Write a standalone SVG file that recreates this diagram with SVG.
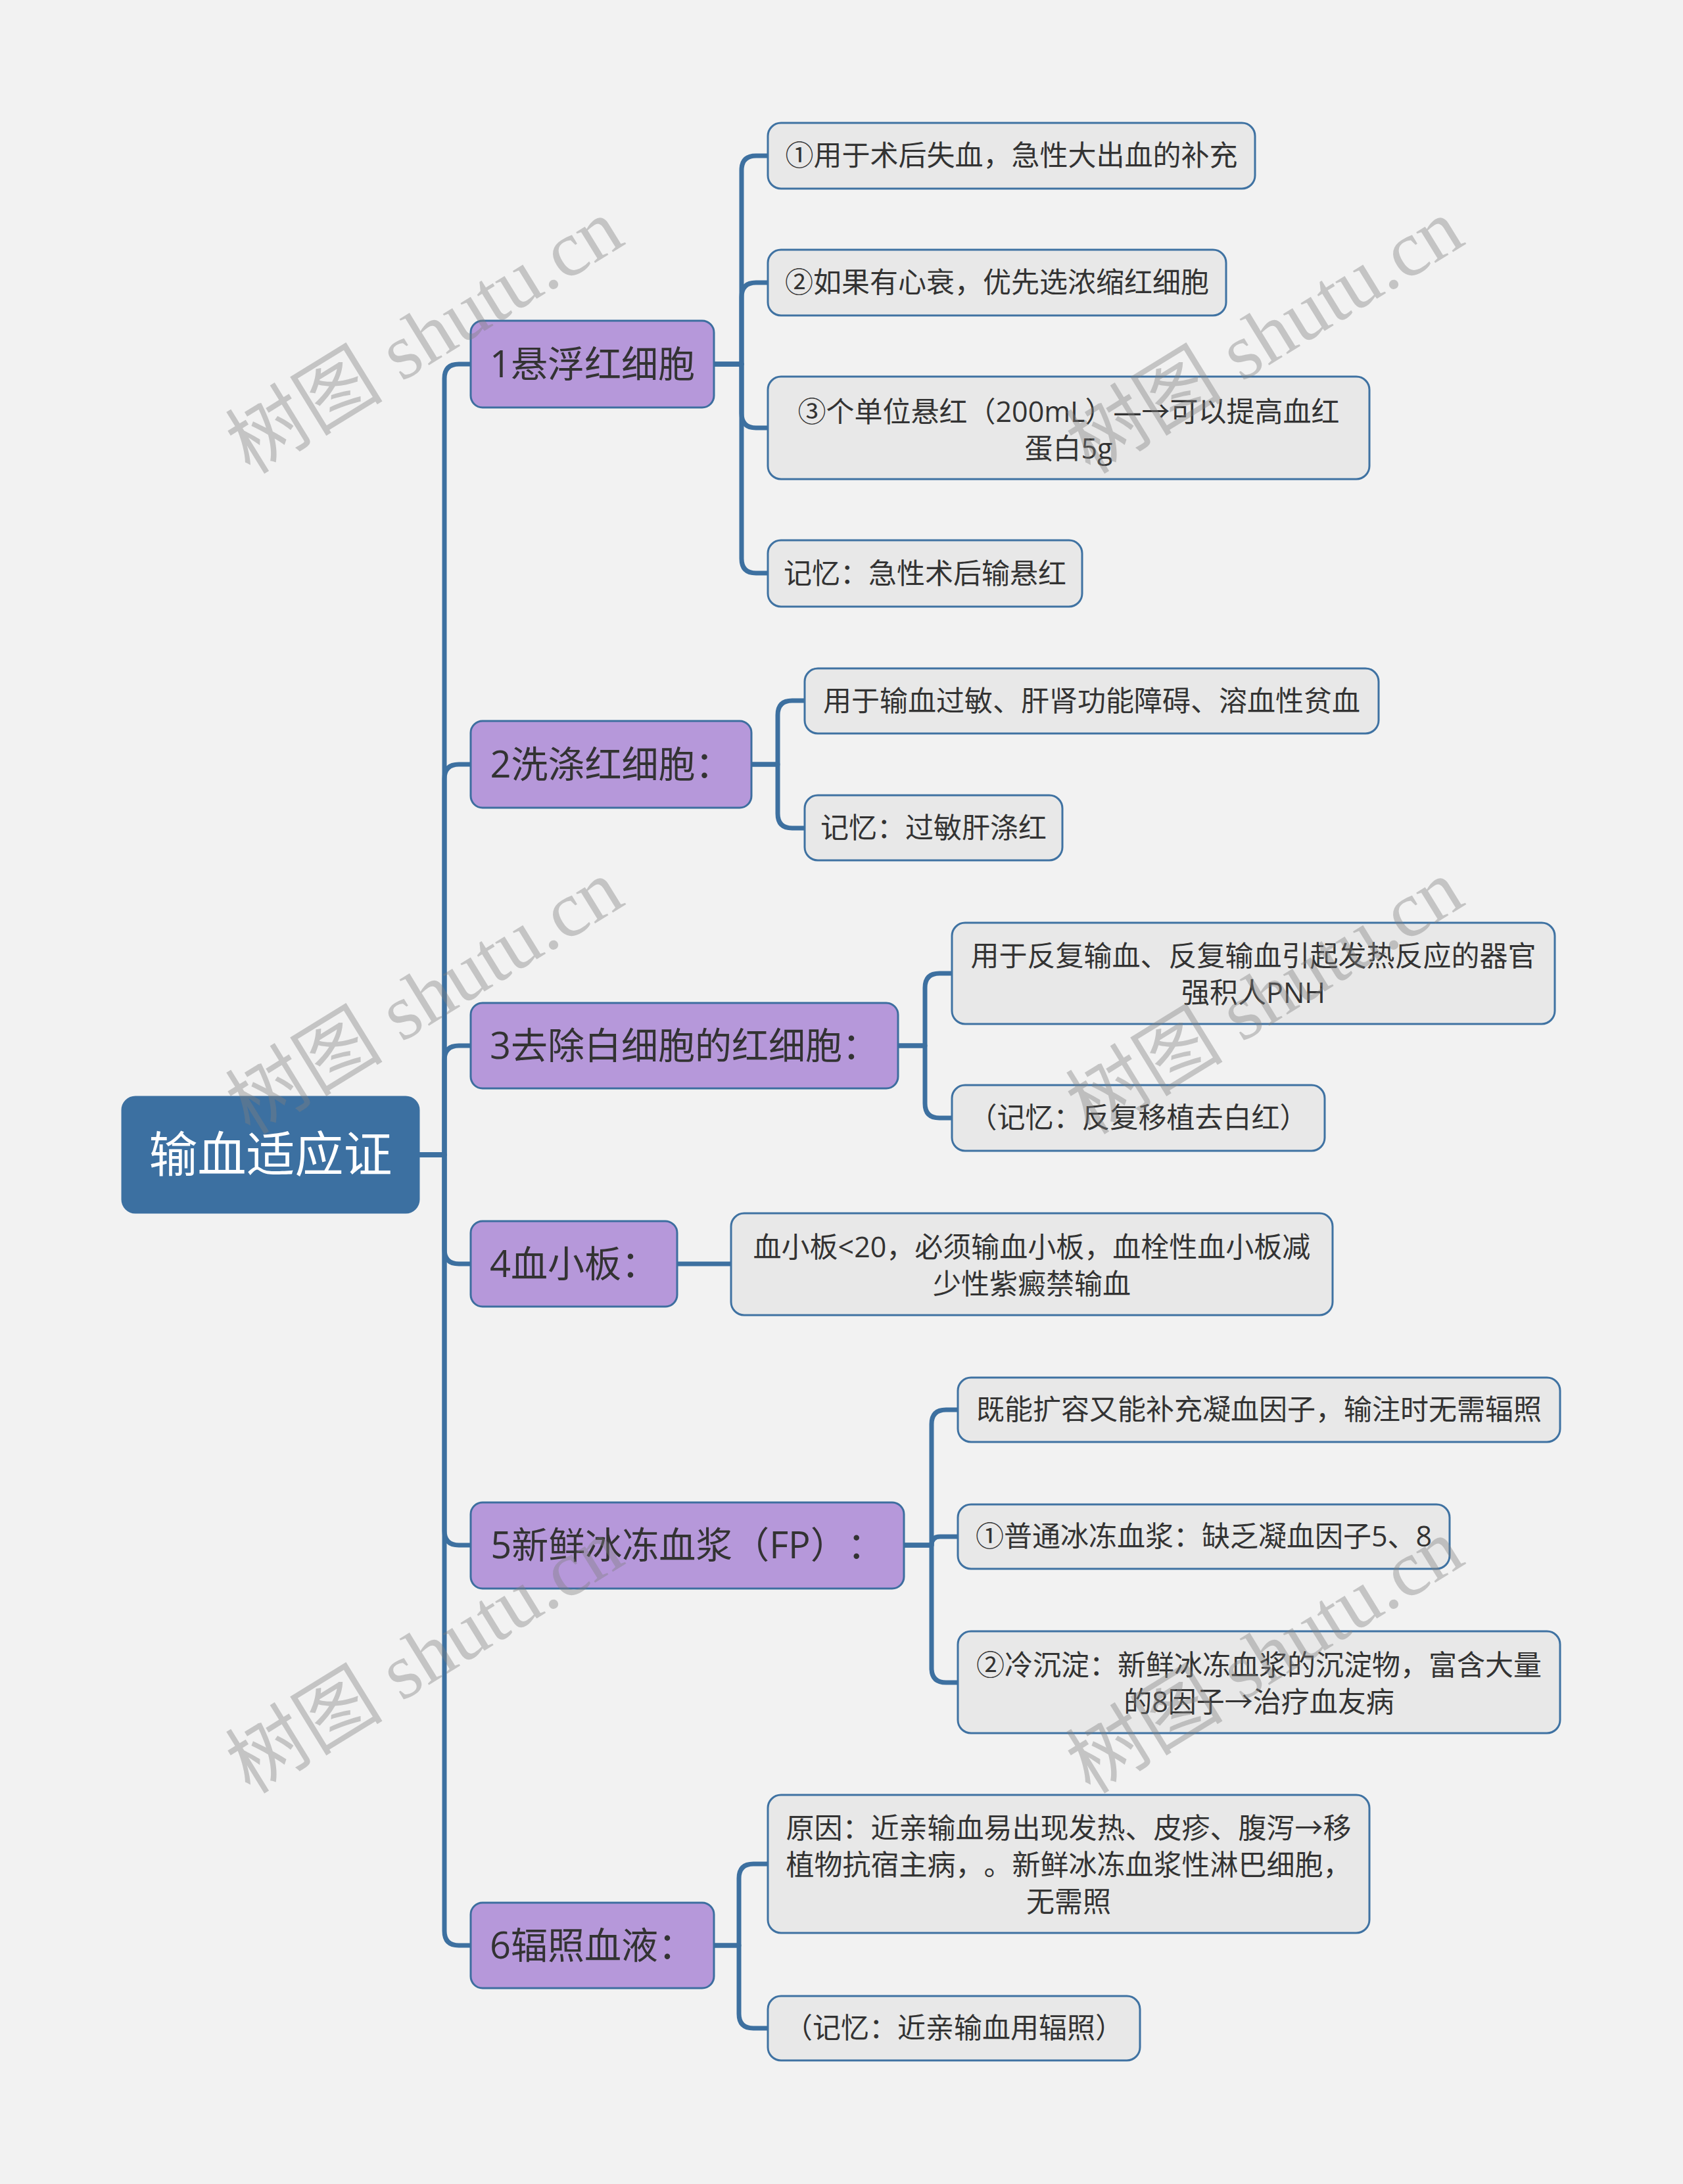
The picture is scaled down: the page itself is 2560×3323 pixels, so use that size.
<svg xmlns="http://www.w3.org/2000/svg" width="2560" height="3323" viewBox="0 0 2560 3323">
<style>
.bg{fill:#F2F2F2}
.root{fill:#3C70A1;stroke:#3C70A1;stroke-width:3}
.l1{fill:#B698DA;stroke:#3D6E9F;stroke-width:3}
.l2{fill:#E8E8E8;stroke:#3F72A2;stroke-width:3}
.conn{fill:none;stroke:#3D70A0;stroke-width:7;stroke-linejoin:round;stroke-linecap:butt}
text{font-family:"Open Sans","Noto Sans CJK SC",sans-serif;text-anchor:middle;text-spacing-trim:space-all}
.tr{font-size:74px;fill:#FFFFFF}
.t1{font-size:56px;fill:#333333}
.t2{font-size:43px;fill:#333333}
.wm{font-family:"Liberation Serif","Noto Sans CJK SC",serif;font-size:120px;fill:#808080;fill-opacity:0.4;dominant-baseline:central}
</style>
<rect class="bg" x="0" y="0" width="2560" height="3323"/>
<g id="connectors">
<path class="conn" d="M637,1757 H676 V576 Q676,554 698,554 H716"/>
<path class="conn" d="M637,1757 H676 V1185 Q676,1163 698,1163 H716"/>
<path class="conn" d="M637,1757 H676 V1613 Q676,1591 698,1591 H716"/>
<path class="conn" d="M637,1757 H676 V1901 Q676,1923 698,1923 H716"/>
<path class="conn" d="M637,1757 H676 V2329 Q676,2351 698,2351 H716"/>
<path class="conn" d="M637,1757 H676 V2938 Q676,2960 698,2960 H716"/>
<path class="conn" d="M1086,554 H1128 V259 Q1128,237 1150,237 H1168"/>
<path class="conn" d="M1086,554 H1128 V452 Q1128,430 1150,430 H1168"/>
<path class="conn" d="M1086,554 H1128 V629 Q1128,651 1150,651 H1168"/>
<path class="conn" d="M1086,554 H1128 V850 Q1128,872 1150,872 H1168"/>
<path class="conn" d="M1143,1163 H1183 V1088 Q1183,1066 1205,1066 H1224"/>
<path class="conn" d="M1143,1163 H1183 V1238 Q1183,1260 1205,1260 H1224"/>
<path class="conn" d="M1366,1591 H1407 V1503 Q1407,1481 1429,1481 H1448"/>
<path class="conn" d="M1366,1591 H1407 V1679 Q1407,1701 1429,1701 H1448"/>
<path class="conn" d="M1030,1923 H1112"/>
<path class="conn" d="M1375,2351 H1417 V2167 Q1417,2145 1439,2145 H1457"/>
<path class="conn" d="M1375,2351 H1417 Q1417,2338 1430,2338 H1457"/>
<path class="conn" d="M1375,2351 H1417 V2538 Q1417,2560 1439,2560 H1457"/>
<path class="conn" d="M1086,2960 H1124 V2858 Q1124,2836 1146,2836 H1168"/>
<path class="conn" d="M1086,2960 H1124 V3064 Q1124,3086 1146,3086 H1168"/>
</g>
<g id="root">
<rect class="root" x="186" y="1669" width="451" height="176" rx="20"/>
<text class="tr" x="411.5" y="1783">输血适应证</text>
</g>
<g id="n1">
<rect class="l1" x="716" y="488" width="370" height="132" rx="18"/>
<text class="t1" x="901" y="574">1悬浮红细胞</text>
</g>
<g id="n2">
<rect class="l1" x="716" y="1097" width="427" height="132" rx="18"/>
<text class="t1" x="929.5" y="1183">2洗涤红细胞：</text>
</g>
<g id="n3">
<rect class="l1" x="716" y="1526" width="650" height="130" rx="18"/>
<text class="t1" x="1041" y="1611">3去除白细胞的红细胞：</text>
</g>
<g id="n4">
<rect class="l1" x="716" y="1858" width="314" height="130" rx="18"/>
<text class="t1" x="873" y="1943">4血小板：</text>
</g>
<g id="n5">
<rect class="l1" x="716" y="2286" width="659" height="131" rx="18"/>
<text class="t1" x="1045.5" y="2371">5新鲜冰冻血浆（FP）：</text>
</g>
<g id="n6">
<rect class="l1" x="716" y="2895" width="370" height="130" rx="18"/>
<text class="t1" x="901" y="2980">6辐照血液：</text>
</g>
<g id="n1a">
<rect class="l2" x="1168" y="187" width="741" height="100" rx="20"/>
<text class="t2" x="1538.5" y="252">①用于术后失血，急性大出血的补充</text>
</g>
<g id="n1b">
<rect class="l2" x="1168" y="380" width="697" height="100" rx="20"/>
<text class="t2" x="1516.5" y="445">②如果有心衰，优先选浓缩红细胞</text>
</g>
<g id="n1c">
<rect class="l2" x="1168" y="573" width="915" height="156" rx="20"/>
<text class="t2" x="1625.5" y="642">③个单位悬红（200mL）—→可以提高血红</text>
<text class="t2" x="1625.5" y="698">蛋白5g</text>
</g>
<g id="n1d">
<rect class="l2" x="1168" y="822" width="478" height="101" rx="20"/>
<text class="t2" x="1407" y="887.5">记忆：急性术后输悬红</text>
</g>
<g id="n2a">
<rect class="l2" x="1224" y="1017" width="873" height="99" rx="20"/>
<text class="t2" x="1660.5" y="1081.5">用于输血过敏、肝肾功能障碍、溶血性贫血</text>
</g>
<g id="n2b">
<rect class="l2" x="1224" y="1210" width="392" height="99" rx="20"/>
<text class="t2" x="1420" y="1274.5">记忆：过敏肝涤红</text>
</g>
<g id="n3a">
<rect class="l2" x="1448" y="1404" width="917" height="154" rx="20"/>
<text class="t2" x="1906.5" y="1470">用于反复输血、反复输血引起发热反应的器官</text>
<text class="t2" x="1906.5" y="1526">强积人PNH</text>
</g>
<g id="n3b">
<rect class="l2" x="1448" y="1651" width="567" height="100" rx="20"/>
<text class="t2" x="1731.5" y="1716">（记忆：反复移植去白红）</text>
</g>
<g id="n4a">
<rect class="l2" x="1112" y="1846" width="915" height="155" rx="20"/>
<text class="t2" x="1569.5" y="1913">血小板&lt;20，必须输血小板，血栓性血小板减</text>
<text class="t2" x="1569.5" y="1969">少性紫癜禁输血</text>
</g>
<g id="n5a">
<rect class="l2" x="1457" y="2096" width="916" height="98" rx="20"/>
<text class="t2" x="1915" y="2160">既能扩容又能补充凝血因子，输注时无需辐照</text>
</g>
<g id="n5b">
<rect class="l2" x="1457" y="2289" width="748" height="98" rx="20"/>
<text class="t2" x="1831" y="2353">①普通冰冻血浆：缺乏凝血因子5、8</text>
</g>
<g id="n5c">
<rect class="l2" x="1457" y="2482" width="916" height="155" rx="20"/>
<text class="t2" x="1915" y="2549">②冷沉淀：新鲜冰冻血浆的沉淀物，富含大量</text>
<text class="t2" x="1915" y="2605">的8因子→治疗血友病</text>
</g>
<g id="n6a">
<rect class="l2" x="1168" y="2731" width="915" height="210" rx="20"/>
<text class="t2" x="1625.5" y="2797">原因：近亲输血易出现发热、皮疹、腹泻→移</text>
<text class="t2" x="1625.5" y="2853">植物抗宿主病，。新鲜冰冻血浆性淋巴细胞，</text>
<text class="t2" x="1625.5" y="2909">无需照</text>
</g>
<g id="n6b">
<rect class="l2" x="1168" y="3037" width="566" height="98" rx="20"/>
<text class="t2" x="1451" y="3101">（记忆：近亲输血用辐照）</text>
</g>
<g id="watermarks">
<text class="wm" transform="translate(646,512) rotate(-31.6)">树图 shutu.cn</text>
<text class="wm" transform="translate(1924,512) rotate(-31.6)">树图 shutu.cn</text>
<text class="wm" transform="translate(646,1517) rotate(-31.6)">树图 shutu.cn</text>
<text class="wm" transform="translate(1924,1517) rotate(-31.6)">树图 shutu.cn</text>
<text class="wm" transform="translate(646,2520) rotate(-31.6)">树图 shutu.cn</text>
<text class="wm" transform="translate(1924,2520) rotate(-31.6)">树图 shutu.cn</text>
</g>
</svg>
